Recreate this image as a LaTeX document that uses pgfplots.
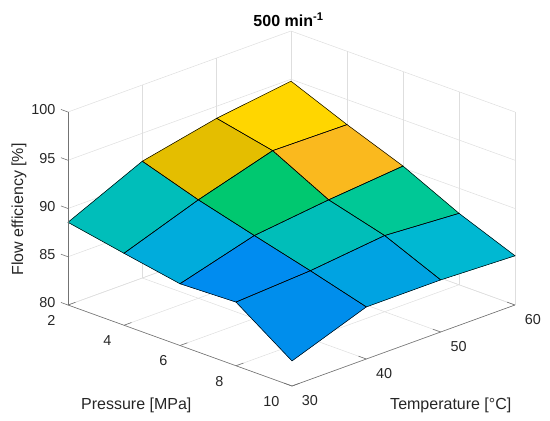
\documentclass[border=0pt]{standalone}
\usepackage{pgfplots}
\pgfplotsset{compat=1.18}
\usepackage{fontspec}
\setmainfont{Liberation Sans}
\definecolor{ticktxt}{rgb}{0.15,0.15,0.15}
\definecolor{axline}{rgb}{0.45,0.45,0.45}
\definecolor{gridc}{rgb}{0.87,0.87,0.87}
\newcommand{\ticksize}{\fontsize{14.4}{17}\selectfont}
\newcommand{\labsize}{\fontsize{16}{19}\selectfont}
\pgfplotstableread{
p T eff
2 30 88.57
4 30 87.46
6 30 86.4
8 30 86.6
10 30 82.6
2 40 92.1
4 40 90.2
6 40 88.6
8 40 87.05
10 40 85.4
2 50 93.75
4 50 92.5
6 50 89.5
8 50 87.9
10 50 85.4
2 60 94.8
4 60 92.4
6 60 90.2
8 60 87.4
10 60 85.1
}\efftable
\begin{document}
\begin{tikzpicture}
\begin{axis}[
  x={(28pt,-10.125pt)}, y={(7.433pt,2.7pt)}, z={(0pt,9.65pt)},
  xmin=2, xmax=10, ymin=30, ymax=60, zmin=80, zmax=100,
  xtick={2,4,6,8,10}, ytick={30,40,50,60}, ztick={80,85,90,95,100},
  xticklabels={}, yticklabels={}, zticklabels={},
  major tick length=0pt,
  grid=major, major grid style={gridc, line width=0.5pt},
  axis line style={draw=none},
  clip=false,
  colormap={obs}{rgb255(0pt)=(53,42,135) rgb255(150pt)=(15,92,221)
    rgb255(311pt)=(0,140,240) rgb255(328pt)=(0,142,236) rgb255(365pt)=(0,163,226)
    rgb255(398pt)=(0,172,220) rgb255(434pt)=(0,184,210) rgb255(490pt)=(0,190,186)
    rgb255(566pt)=(0,200,150) rgb255(623pt)=(0,200,112) rgb255(700pt)=(120,195,50)
    rgb255(779pt)=(228,190,0) rgb255(811pt)=(250,185,30) rgb255(914pt)=(255,214,0)
    rgb255(1000pt)=(249,240,20)},
  point meta min=82.6, point meta max=94.8,
]
\addplot3[surf, shader=flat corner, mesh/rows=4, mesh/cols=5, z buffer=none]
  table[x=p, y=T, z=eff] {\efftable};
\addplot3[mesh, colormap={bk}{color(0pt)=(black) color(1pt)=(black)},
  line width=0.5pt, mesh/rows=4, mesh/cols=5, z buffer=none]
  table[x=p, y=T, z=eff] {\efftable};
% axis lines
\draw[axline, line width=0.6pt] (axis cs:2,30,80) -- (axis cs:10,30,80) -- (axis cs:10,60,80);
\draw[axline, line width=0.6pt] (axis cs:2,30,80) -- (axis cs:2,30,100);
\pgfplotsinvokeforeach{2,4,6,8,10}{
  \draw[axline, line width=0.6pt] (axis cs:#1,30,80) -- (axis cs:#1,31,80);
  \node[anchor=east, inner sep=0pt, font=\ticksize, text=ticktxt] at ([shift={(-12.5pt,-15.5pt)}]axis cs:#1,30,80) {#1};
}
\pgfplotsinvokeforeach{30,40,50,60}{
  \draw[axline, line width=0.6pt] (axis cs:10,#1,80) -- (axis cs:9.72,#1,80);
  \node[anchor=west, inner sep=0pt, font=\ticksize, text=ticktxt] at ([shift={(9.7pt,-14.7pt)}]axis cs:10,#1,80) {#1};
}
\pgfplotsinvokeforeach{80,85,90,95,100}{
  \draw[axline, line width=0.6pt] (axis cs:2,30,#1) -- (axis cs:1.75,30,#1);
  \node[anchor=east, inner sep=0pt, font=\ticksize, text=ticktxt] at ([shift={(-12.5pt,2pt)}]axis cs:2,30,#1) {#1};
}
\coordinate (C) at (axis cs:2,30,80);
\end{axis}
\node[anchor=base, inner sep=0pt, font=\labsize, text=ticktxt] at ([shift={(68.3pt,-104.3pt)}]C) {Pressure [MPa]};
\node[anchor=base, inner sep=0pt, font=\labsize, text=ticktxt] at ([shift={(382.8pt,-104.3pt)}]C) {Temperature [°C]};
\node[rotate=90, inner sep=0pt, font=\labsize, text=ticktxt] at ([shift={(-49pt,95.5pt)}]C) {Flow efficiency [\%]};
\node[anchor=base, inner sep=0pt, font=\labsize\bfseries, text=black] at ([shift={(220.5pt,278.3pt)}]C) {500 min\textsuperscript{-1}};
\pgfresetboundingbox
\path (C) ++(-68pt,-116pt) rectangle ++(550pt,421pt);
\end{tikzpicture}
\end{document}
